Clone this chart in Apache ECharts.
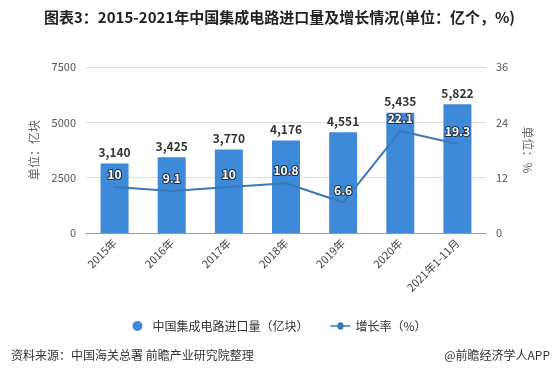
<!DOCTYPE html>
<html><head><meta charset="utf-8">
<script src="https://cdn.jsdelivr.net/npm/echarts@6/dist/echarts.min.js"></script>
<style>html,body{margin:0;padding:0;background:#fff}#c{width:559px;height:384px}</style>
</head><body><div id="c"></div>
<script>
const categories = ['2015年','2016年','2017年','2018年','2019年','2020年','2021年1-11月'];
const importVolume = [3140,3425,3770,4176,4551,5435,5822];
const growthRate = [10,9.1,10,10.8,6.6,22.1,19.3];
const leftTicks = [0,2500,5000,7500];
const rightTicks = [0,12,24,36];

const FONT = '"Noto Sans CJK SC", "Noto Sans", sans-serif';
const chart = echarts.init(document.getElementById('c'));
chart.setOption({
  animation: false,
  textStyle: {fontFamily: FONT},
  title: [
    {text: '图表3：2015-2021年中国集成电路进口量及增长情况(单位：亿个，%)', left: 'center', top: 5,
     textStyle: {fontSize: 15, fontWeight: 'bold', color: '#222', fontFamily: FONT}},
    {text: '资料来源：中国海关总署 前瞻产业研究院整理', left: 6, top: 344,
     textStyle: {fontSize: 12, fontWeight: 'normal', color: '#333', fontFamily: FONT}},
    {text: '@前瞻经济学人APP', right: 4, top: 344,
     textStyle: {fontSize: 12, fontWeight: 'normal', color: '#333', fontFamily: FONT}}
  ],
  legend: {
    top: 315, left: 'center', itemGap: 22, itemWidth: 20, itemHeight: 10,
    textStyle: {fontSize: 12, color: '#333', fontFamily: FONT},
    data: [{name: '中国集成电路进口量（亿块）', icon: 'circle'},
           {name: '增长率（%）', icon: 'path://M0,4.2 L7,4.2 A3,3 0 0 1 13,4.2 L20,4.2 L20,5.8 L13,5.8 A3,3 0 0 1 7,5.8 L0,5.8 Z'}]
  },
  grid: {left: 86, right: 73, top: 67, bottom: 151},
  xAxis: {
    type: 'category', data: categories,
    axisLine: {lineStyle: {color: '#999'}},
    axisTick: {alignWithLabel: true, lineStyle: {color: '#999'}},
    axisLabel: {rotate: 45, fontSize: 11, color: '#444', margin: 8, interval: 0}
  },
  yAxis: [
    {type: 'value', min: 0, max: 7500, interval: 2500,
     name: '单位：亿块', nameLocation: 'middle', nameGap: 46,
     nameTextStyle: {fontSize: 12, color: '#666'},
     axisLabel: {fontSize: 11, color: '#555', margin: 10, formatter: v => String(v)},
     axisLine: {show: false}, axisTick: {show: false},
     splitLine: {lineStyle: {color: '#ddd'}}},
    {type: 'value', min: 0, max: 36, interval: 12,
     name: '单位：%', nameLocation: 'middle', nameGap: 36, nameRotate: -90,
     nameTextStyle: {fontSize: 12, color: '#666'},
     axisLabel: {fontSize: 11, color: '#555', margin: 10},
     axisLine: {show: false}, axisTick: {show: false},
     splitLine: {show: false}}
  ],
  series: [
    {name: '中国集成电路进口量（亿块）', type: 'bar', data: importVolume, barWidth: 28,
     itemStyle: {color: '#3f8ad8'},
     label: {show: true, position: 'top', fontSize: 12, fontWeight: 'bold', color: '#333',
             formatter: p => p.value.toLocaleString('en-US')}},
    {name: '增长率（%）', type: 'line', yAxisIndex: 1, data: growthRate,
     symbol: 'circle', symbolSize: 1, showSymbol: true, smooth: false,
     lineStyle: {color: '#3a7ab8', width: 2}, itemStyle: {color: '#3a7ab8'},
     label: {show: true, position: 'top', distance: 6, fontSize: 12, fontWeight: 'bold',
             color: '#fff', textBorderColor: '#1f2f45', textBorderWidth: 2}}
  ]
});
</script></body></html>
